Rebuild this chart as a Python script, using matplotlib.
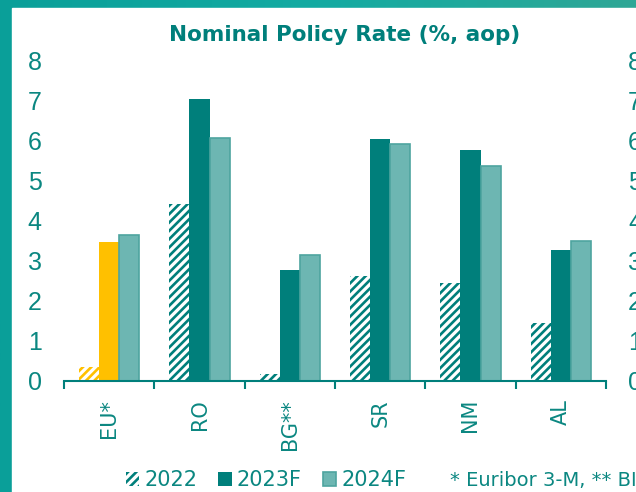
import numpy as np
import matplotlib
matplotlib.use("Agg")
import matplotlib.pyplot as plt
from matplotlib.patches import Patch, Rectangle

# Nominal policy rate (%, average of period)
categories = ["EU*", "RO", "BG**", "SR", "NM", "AL"]
rate_2022 = [0.35, 4.41, 0.17, 2.62, 2.45, 1.45]
rate_2023f = [3.47, 7.03, 2.77, 6.04, 5.75, 3.26]
rate_2024f = [3.64, 6.06, 3.14, 5.90, 5.37, 3.50]
series_labels = ["2022", "2023F", "2024F"]
y_ticks = [0, 1, 2, 3, 4, 5, 6, 7, 8]

teal_text = "#0b8781"
dark = "#007f7b"
light = "#6db6b2"
light_edge = "#4ea49f"
yellow = "#ffc000"

plt.rcParams["hatch.linewidth"] = 1.9

W, H = 636, 492
fig = plt.figure(figsize=(W / 100, H / 100), dpi=100)

# slide background: teal frame with white panel
bg = fig.add_axes([0, 0, 1, 1], zorder=-10)
grad = np.linspace(0, 1, 256)[None, :]
bg.imshow(grad, aspect="auto", extent=[0, 1, 0, 1],
          cmap=matplotlib.colors.LinearSegmentedColormap.from_list("g", ["#0a9f99", "#13aba2", "#2fa796"]))
bg.add_patch(Rectangle((12 / W, 0), 1, 1 - 8 / H, color="white"))
bg.set_xlim(0, 1)
bg.set_ylim(0, 1)
bg.axis("off")

ax = fig.add_axes([64 / W, 1 - 381 / H, 542 / W, 321 / H])
ax.patch.set_alpha(0)

x = np.arange(len(categories))
w = 0.222
c2022 = [yellow if c == "EU*" else dark for c in categories]
c2023 = [yellow if c == "EU*" else dark for c in categories]

ax.bar(x - w, rate_2022, w, color="white", edgecolor=c2022, hatch="////", linewidth=0)
ax.bar(x, rate_2023f, w, color=c2023, linewidth=0)
ax.bar(x + w, rate_2024f, w, color=light, edgecolor=light_edge, linewidth=1.2)

ax.set_xlim(-0.5, len(categories) - 0.5)
ax.set_ylim(0, 8)
ax.set_yticks(y_ticks)
ax.tick_params(axis="y", length=0, labelsize=18, labelcolor=teal_text,
               labelleft=True, labelright=True, pad=16)
for lbl in ax.get_yticklabels(which="both"):
    lbl.set_fontfamily("Liberation Sans")
for lbl in ax.yaxis.get_ticklabels():
    lbl.set_fontfamily("Liberation Sans")
for tk in ax.yaxis.get_major_ticks():
    tk.label2.set_fontfamily("Liberation Sans")

ax.set_xticks(np.arange(len(categories) + 1) - 0.5)
ax.set_xticklabels([])
ax.tick_params(axis="x", which="major", length=6, width=1.5, color=dark, direction="out")
ax.set_xticks(x, minor=True)
ax.set_xticklabels(categories, minor=True, rotation=90)
ax.tick_params(axis="x", which="minor", length=0, pad=13, labelsize=15, labelcolor=teal_text)

for s in ["top", "left", "right"]:
    ax.spines[s].set_visible(False)
ax.spines["bottom"].set_color(dark)
ax.spines["bottom"].set_linewidth(1.5)

fig.text(344.5 / W, 1 - 35 / H, "Nominal Policy Rate (%, aop)", ha="center", va="center",
         fontsize=15.5, fontweight="bold", color=dark)

handles = [
    Patch(facecolor="white", edgecolor=dark, hatch="////", linewidth=0),
    Patch(facecolor=dark, linewidth=0),
    Patch(facecolor=light, edgecolor=light_edge, linewidth=1.2),
]
leg = fig.legend(handles, series_labels, loc="center", bbox_to_anchor=(266 / W, 1 - 480 / H),
                 ncol=3, frameon=False, fontsize=15, handlelength=0.65, handleheight=0.65,
                 handletextpad=0.25, columnspacing=1.0, borderpad=0)
for t in leg.get_texts():
    t.set_color(teal_text)

fig.text(450 / W, 1 - 481 / H, "* Euribor 3-M, ** BIR", ha="left", va="center",
         fontsize=14, color=teal_text)

fig.savefig("out.png", dpi=100)
